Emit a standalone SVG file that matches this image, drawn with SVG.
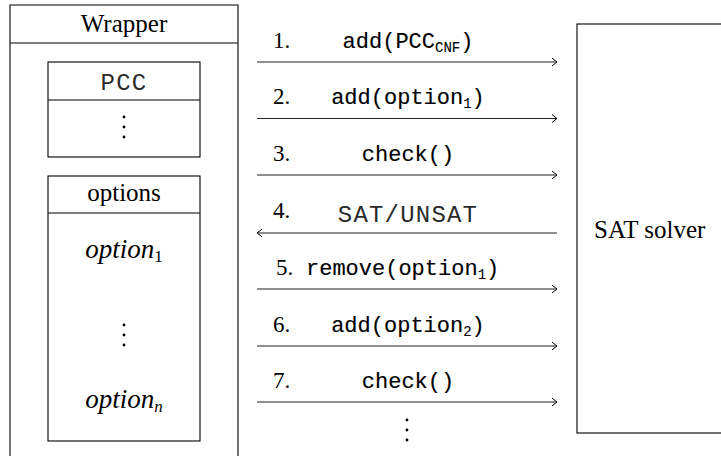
<svg xmlns="http://www.w3.org/2000/svg" width="721" height="456" viewBox="0 0 721 456">
  <style>
    .box { fill: #fff; stroke: #000; stroke-width: 1.1; }
    .sep { stroke: #000; stroke-width: 1.1; }
    .serif { font-family: "Liberation Serif", "DejaVu Serif", serif; font-size: 25px; fill: #000; }
    .num { font-family: "Liberation Serif", "DejaVu Serif", serif; font-size: 23px; fill: #000; }
    .math { font-family: "Liberation Serif", "DejaVu Serif", serif; font-size: 27px; font-style: italic; fill: #000; }
    .math .sub { font-style: normal; font-size: 17px; }
    .math .subi { font-style: italic; font-size: 17px; }
    .tt { font-family: "Liberation Mono", "DejaVu Sans Mono", monospace; font-size: 22px; fill: #000; stroke: #000; stroke-width: 0.15; }
    .tt .sub { font-size: 14px; stroke-width: 0.1; }
    .ttl { font-family: "Liberation Mono", "DejaVu Sans Mono", monospace; font-size: 24px; fill: #2a2a2a; letter-spacing: 1.2px; }
    .dot { fill: #000; }
    .conn line { stroke: #222; stroke-width: 1.2; fill: none; }
  </style>
  <defs>
    <marker id="to" viewBox="-6 -5 8 10" refX="0" refY="0" markerWidth="8" markerHeight="10" markerUnits="userSpaceOnUse" orient="auto">
      <path d="M -5 -4 Q -1.5 -1 0 0 Q -1.5 1 -5 4" fill="none" stroke="#000" stroke-width="1"/>
    </marker>
  </defs>

  <!-- Wrapper: outer container, open at the bottom edge -->
  <g id="wrapper">
    <path class="box" d="M 10 460 V 5 H 238 V 460"/>
    <line class="sep" x1="10" y1="43" x2="238" y2="43"/>
    <text class="serif" x="124" y="32" text-anchor="middle">Wrapper</text>
  </g>

  <!-- PCC store -->
  <g id="pcc">
    <rect class="box" x="48" y="62" width="152" height="95"/>
    <line class="sep" x1="48" y1="100" x2="200" y2="100"/>
    <text class="ttl" x="124" y="90" text-anchor="middle">PCC</text>
    <circle class="dot" cx="124" cy="117" r="1.4"/>
    <circle class="dot" cx="124" cy="127" r="1.4"/>
    <circle class="dot" cx="124" cy="137" r="1.4"/>
  </g>

  <!-- option list -->
  <g id="options">
    <rect class="box" x="48" y="176" width="152" height="265"/>
    <line class="sep" x1="48" y1="213" x2="200" y2="213"/>
    <text class="serif" x="124" y="201" text-anchor="middle">options</text>
    <text class="math" x="124" y="258" text-anchor="middle">option<tspan class="sub" dy="4">1</tspan></text>
    <circle class="dot" cx="124" cy="325" r="1.4"/>
    <circle class="dot" cx="124" cy="335" r="1.4"/>
    <circle class="dot" cx="124" cy="345" r="1.4"/>
    <text class="math" x="124" y="408" text-anchor="middle">option<tspan class="subi" dy="4">n</tspan></text>
  </g>

  <!-- solver -->
  <g id="solver">
    <rect class="box" x="577" y="24" width="160" height="409"/>
    <text class="serif" x="594" y="238">SAT solver</text>
  </g>

  <!-- message arrows between wrapper and solver -->
  <g id="connectors" class="conn">
    <line x1="257" y1="62" x2="557" y2="62" marker-end="url(#to)"/>
    <line x1="257" y1="118.5" x2="557" y2="118.5" marker-end="url(#to)"/>
    <line x1="257" y1="175" x2="557" y2="175" marker-end="url(#to)"/>
    <line x1="557" y1="233" x2="257" y2="233" marker-end="url(#to)"/>
    <line x1="257" y1="289" x2="557" y2="289" marker-end="url(#to)"/>
    <line x1="257" y1="346" x2="557" y2="346" marker-end="url(#to)"/>
    <line x1="257" y1="402" x2="557" y2="402" marker-end="url(#to)"/>
  </g>

  <!-- message labels -->
  <g id="labels">
    <text class="num" x="273" y="48">1.</text>
    <text class="tt" x="408" y="48" text-anchor="middle">add(PCC<tspan class="sub" dy="4">CNF</tspan><tspan dy="-4">)</tspan></text>

    <text class="num" x="273" y="104">2.</text>
    <text class="tt" x="408" y="104" text-anchor="middle">add(option<tspan class="sub" dy="4">1</tspan><tspan dy="-4">)</tspan></text>

    <text class="num" x="273" y="161">3.</text>
    <text class="tt" x="408" y="161" text-anchor="middle">check()</text>

    <text class="num" x="273" y="218">4.</text>
    <text class="ttl" x="408" y="222" text-anchor="middle">SAT/UNSAT</text>

    <text class="num" x="276" y="275">5.</text>
    <text class="tt" x="306" y="275">remove(option<tspan class="sub" dy="4">1</tspan><tspan dy="-4">)</tspan></text>

    <text class="num" x="273" y="332">6.</text>
    <text class="tt" x="408" y="332" text-anchor="middle">add(option<tspan class="sub" dy="4">2</tspan><tspan dy="-4">)</tspan></text>

    <text class="num" x="273" y="388">7.</text>
    <text class="tt" x="408" y="388" text-anchor="middle">check()</text>

    <circle class="dot" cx="407" cy="420" r="1.4"/>
    <circle class="dot" cx="407" cy="430" r="1.4"/>
    <circle class="dot" cx="407" cy="440" r="1.4"/>
  </g>
</svg>
